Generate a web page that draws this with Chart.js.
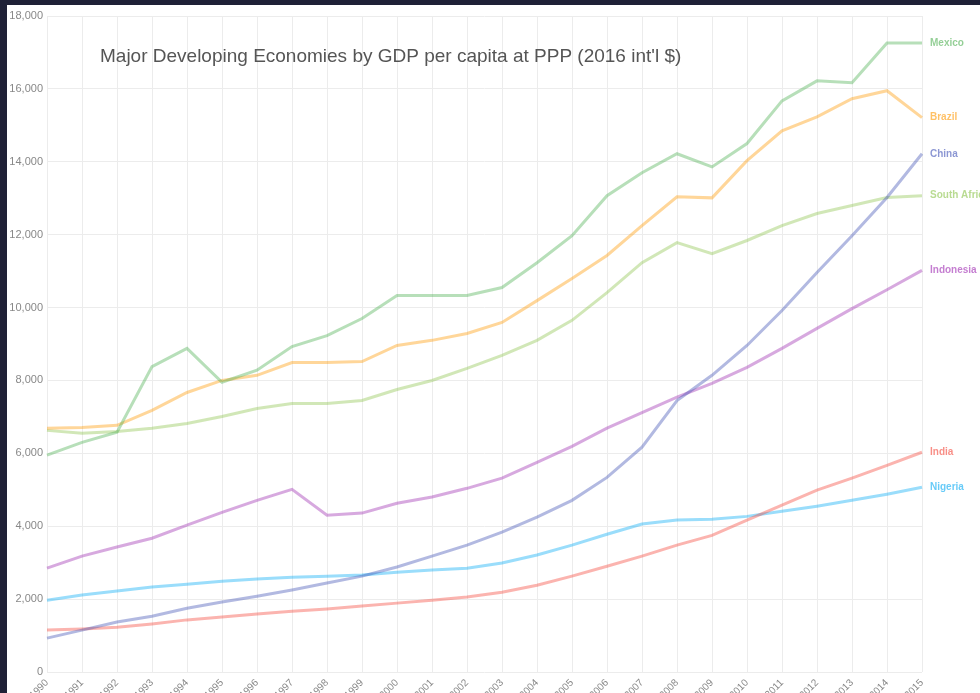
<!DOCTYPE html>
<html lang="en">
<head>
  <meta charset="UTF-8">
  <title>Major Developing Economies by GDP per capita</title>
  <script src="https://cdn.jsdelivr.net/npm/chart.js"></script>
  <style>
    html, body { margin: 0; padding: 0; overflow: hidden; background: #1f2137; }
    #wrap { position: absolute; left: 7px; top: 5px; width: 1010px; height: 720px; background: #fff; }
  </style>
</head>
<body>
  <div id="wrap">
    <canvas id="gdpChart" width="1010" height="720"></canvas>
  </div>

  <script>
    // years on the x axis
    const years = ['1990', '1991', '1992', '1993', '1994', '1995', '1996', '1997', '1998', '1999',
      '2000', '2001', '2002', '2003', '2004', '2005', '2006', '2007', '2008', '2009',
      '2010', '2011', '2012', '2013', '2014', '2015'];

    // GDP per capita, PPP (int'l $)
    const mexico = [5950, 6300, 6580, 8380, 8880, 7950, 8280, 8930, 9230, 9700, 10330, 10330, 10330,
      10550, 11230, 11970, 13070, 13700, 14220, 13860, 14500, 15670, 16220, 16170, 17260, 17260];
    const brazil = [6690, 6710, 6770, 7180, 7670, 8000, 8140, 8490, 8490, 8520, 8960, 9100, 9290,
      9590, 10190, 10800, 11430, 12250, 13040, 13010, 14030, 14850, 15230, 15730, 15950, 15210];
    const china = [930, 1150, 1370, 1530, 1750, 1920, 2080, 2250, 2440, 2630, 2880, 3180, 3480,
      3840, 4250, 4710, 5340, 6170, 7450, 8140, 8960, 9920, 10960, 11970, 13020, 14220];
    const southAfrica = [6630, 6550, 6600, 6690, 6820, 7010, 7230, 7370, 7370, 7450, 7750, 8000, 8330,
      8690, 9100, 9650, 10410, 11230, 11780, 11480, 11840, 12250, 12580, 12800, 13020, 13070];
    const indonesia = [2850, 3180, 3430, 3670, 4030, 4380, 4710, 5010, 4300, 4360, 4630, 4800, 5040,
      5320, 5750, 6190, 6690, 7120, 7540, 7920, 8360, 8880, 9430, 9970, 10490, 11020];
    const india = [1150, 1180, 1230, 1320, 1430, 1510, 1590, 1670, 1730, 1810, 1890, 1970, 2060,
      2190, 2380, 2630, 2900, 3180, 3480, 3750, 4170, 4580, 4990, 5320, 5670, 6030];
    const nigeria = [1970, 2110, 2220, 2330, 2410, 2490, 2550, 2600, 2630, 2660, 2740, 2800, 2850,
      2990, 3210, 3480, 3780, 4060, 4170, 4190, 4270, 4410, 4550, 4710, 4880, 5070];

    const yTicks = { min: 0, max: 18000, step: 2000 };

    const series = [
      { label: 'Mexico', data: mexico, color: '76, 175, 80' },
      { label: 'Brazil', data: brazil, color: '255, 152, 0' },
      { label: 'China', data: china, color: '63, 81, 181' },
      { label: 'South Africa', data: southAfrica, color: '139, 195, 74' },
      { label: 'Indonesia', data: indonesia, color: '156, 39, 176' },
      { label: 'India', data: india, color: '244, 67, 54' },
      { label: 'Nigeria', data: nigeria, color: '3, 169, 244' }
    ];

    // title and end-of-line names are drawn on the canvas
    const labelPlugin = {
      id: 'labels',
      afterDatasetsDraw(chart) {
        const ctx = chart.ctx;
        const area = chart.chartArea;
        ctx.save();
        ctx.fillStyle = '#555';
        ctx.font = '19px "Liberation Sans", Arial, sans-serif';
        ctx.textAlign = 'left';
        ctx.textBaseline = 'middle';
        ctx.fillText("Major Developing Economies by GDP per capita at PPP (2016 int'l $)", 93, 52);

        ctx.font = 'bold 10px "Liberation Sans", Arial, sans-serif';
        chart.data.datasets.forEach((ds, i) => {
          const meta = chart.getDatasetMeta(i);
          const last = meta.data[meta.data.length - 1];
          ctx.fillStyle = 'rgba(' + series[i].color + ', 0.6)';
          ctx.fillText(ds.label, area.right + 8, last.y);
        });
        ctx.restore();
      }
    };

    const ctx = document.getElementById('gdpChart').getContext('2d');
    const gdpChart = new Chart(ctx, {
      type: 'line',
      data: {
        labels: years,
        datasets: series.map(s => ({
          label: s.label,
          data: s.data,
          borderColor: 'rgba(' + s.color + ', 0.4)',
          borderWidth: 3,
          pointRadius: 0,
          fill: false,
          tension: 0
        }))
      },
      options: {
        responsive: false,
        animation: false,
        devicePixelRatio: 1,
        layout: { padding: { top: 11, right: 95, bottom: 0, left: 0 } },
        plugins: {
          legend: { display: false },
          title: { display: false },
          tooltip: { enabled: false }
        },
        scales: {
          x: {
            grid: { color: '#ececec', drawTicks: false },
            border: { display: false },
            ticks: {
              color: '#888',
              font: { size: 10 },
              padding: 5,
              autoSkip: false,
              minRotation: 45,
              maxRotation: 45
            },
            afterFit(scale) { scale.height = 53; }
          },
          y: {
            min: yTicks.min,
            max: yTicks.max,
            grid: { color: '#ececec', drawTicks: false },
            border: { display: false },
            ticks: {
              stepSize: yTicks.step,
              color: '#888',
              font: { size: 11 },
              padding: 4
            },
            afterFit(scale) { scale.width = 40; }
          }
        }
      },
      plugins: [labelPlugin]
    });
  </script>
</body>
</html>
